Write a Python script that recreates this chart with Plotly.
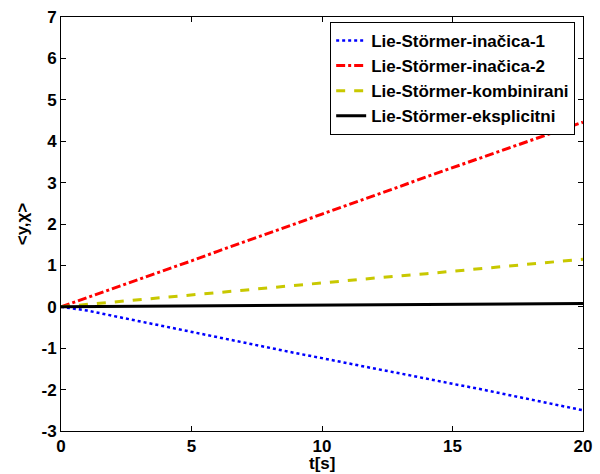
import plotly.graph_objects as go

t = [0, 1, 2, 3, 4, 5, 6, 7, 8, 9, 10, 11, 12, 13, 14, 15, 16, 17, 18, 19, 20]
inacica1 = [0, -0.09, -0.22, -0.35, -0.48, -0.61, -0.74, -0.87, -1.00, -1.12, -1.24, -1.37, -1.49, -1.61, -1.74, -1.86, -1.98, -2.11, -2.24, -2.36, -2.50]
inacica2 = [0, 0.22, 0.44, 0.67, 0.89, 1.11, 1.34, 1.56, 1.79, 2.01, 2.24, 2.46, 2.69, 2.91, 3.14, 3.36, 3.58, 3.80, 4.02, 4.23, 4.46]
kombinirani = [0, 0.055, 0.11, 0.17, 0.23, 0.29, 0.34, 0.40, 0.46, 0.52, 0.57, 0.63, 0.69, 0.75, 0.80, 0.86, 0.92, 0.98, 1.03, 1.09, 1.15]
eksplicitni = [0, 0.004, 0.008, 0.012, 0.016, 0.02, 0.024, 0.028, 0.032, 0.036, 0.04, 0.044, 0.048, 0.052, 0.056, 0.06, 0.064, 0.068, 0.072, 0.076, 0.08]

names = ["Lie-Störmer-inačica-1", "Lie-Störmer-inačica-2", "Lie-Störmer-kombinirani", "Lie-Störmer-eksplicitni"]
x_ticks = [0, 5, 10, 15, 20]
x_labels = ["0", "5", "10", "15", "20"]
y_ticks = [-3, -2, -1, 0, 1, 2, 3, 4, 5, 6, 7]
y_labels = ["-3", "-2", "-1", "0", "1", "2", "3", "4", "5", "6", "7"]
x_title = "t[s]"
y_title = "&lt;y,χ&gt;"

fig = go.Figure()
fig.add_trace(go.Scatter(x=t, y=inacica1, mode="lines", name=names[0],
                         line=dict(color="#0000ff", width=2.5, dash="dot")))
fig.add_trace(go.Scatter(x=t, y=inacica2, mode="lines", name=names[1],
                         line=dict(color="#ff0000", width=3, dash="dashdot")))
fig.add_trace(go.Scatter(x=t, y=kombinirani, mode="lines", name=names[2],
                         line=dict(color="#c8c800", width=3, dash="dash")))
fig.add_trace(go.Scatter(x=t, y=eksplicitni, mode="lines", name=names[3],
                         line=dict(color="#000000", width=3)))

font_family = "Liberation Sans, Arial, sans-serif"
axis_common = dict(showgrid=False, zeroline=False, showline=True, linecolor="black",
                   linewidth=1, mirror="ticks", ticks="inside", ticklen=5,
                   tickcolor="black", tickwidth=1, automargin=False,
                   tickfont=dict(family=font_family, size=17, color="black"))

fig.update_layout(
    width=600, height=474,
    margin=dict(l=61, r=17, t=17, b=43),
    paper_bgcolor="white", plot_bgcolor="white",
    font=dict(family=font_family, color="black"),
    xaxis=dict(range=[0, 20], tickvals=x_ticks, ticktext=["<b>%s</b>" % s for s in x_labels],
               **axis_common),
    yaxis=dict(range=[-3, 7], tickvals=y_ticks, ticktext=["<b>%s</b>" % s for s in y_labels],
               **axis_common,
               title=dict(text="<b>%s</b>" % y_title, font=dict(family=font_family, size=17), standoff=8)),
    legend=dict(x=0.985, y=0.988, xanchor="right", yanchor="top",
                bgcolor="white", bordercolor="black", borderwidth=1,
                font=dict(family=font_family, size=17, color="black", weight="bold"),
                tracegroupgap=0, itemwidth=30),
    showlegend=True,
)
fig.add_annotation(text="<b>%s</b>" % x_title, xref="paper", yref="paper",
                   x=0.5, y=-0.079, xanchor="center", yanchor="middle", showarrow=False,
                   font=dict(family=font_family, size=17, color="black"))

fig.write_html("out.html", config={"displayModeBar": False},
               post_script="document.body.style.margin='0';")
